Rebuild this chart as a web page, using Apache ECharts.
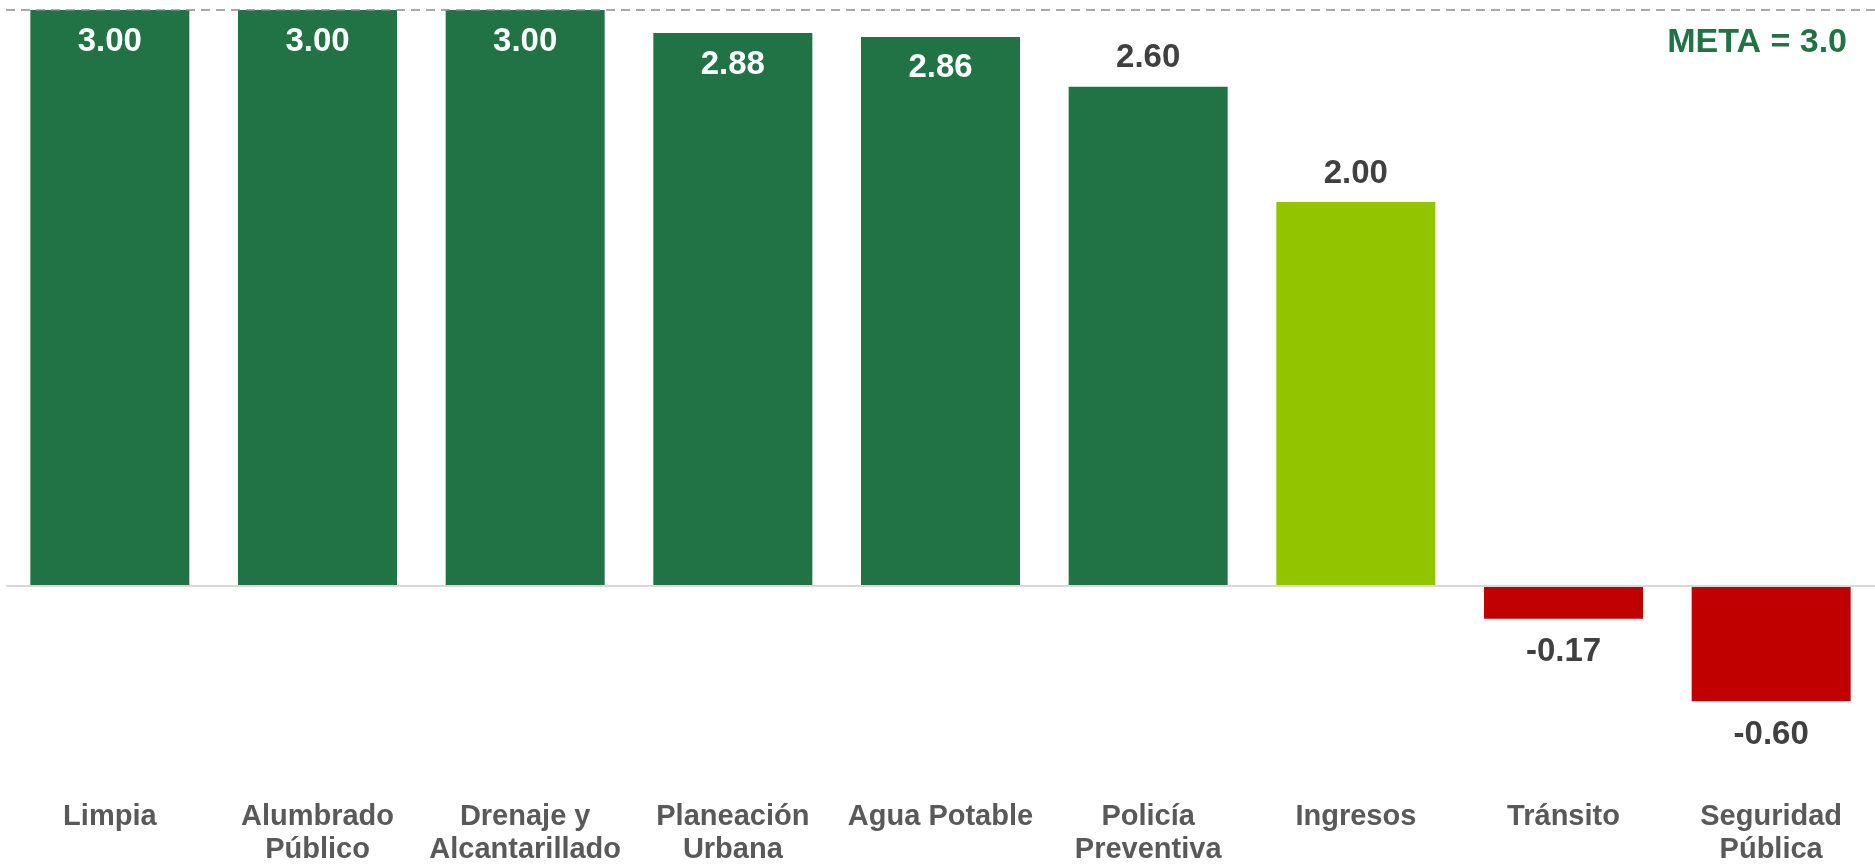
<!DOCTYPE html>
<html>
<head>
<meta charset="utf-8">
<style>
html,body{margin:0;padding:0;background:#fff;}
#chart{width:1875px;height:866px;}
</style>
<script src="https://cdn.jsdelivr.net/npm/echarts@6/dist/echarts.min.js"></script>
</head>
<body>
<div id="chart"></div>
<script>
const categories = ['Limpia', 'Alumbrado\nPúblico', 'Drenaje y\nAlcantarillado', 'Planeación\nUrbana', 'Agua Potable', 'Policía\nPreventiva', 'Ingresos', 'Tránsito', 'Seguridad\nPública'];
const values = [3.00, 3.00, 3.00, 2.88, 2.86, 2.60, 2.00, -0.17, -0.60];
const metaValue = 3.0;
const metaLabel = 'META = 3.0';

const FONT = '"Liberation Sans", Arial, sans-serif';
function barColor(v) {
  if (v < 0) return '#C00000';
  if (v < 2.5) return '#92C400';
  return '#217346';
}
const data = values.map(v => {
  const inside = v >= 2.85;
  return {
    value: v,
    itemStyle: { color: barColor(v) },
    label: {
      show: true,
      position: v < 0 ? 'bottom' : (inside ? 'insideTop' : 'top'),
      distance: v < 0 ? 17 : (inside ? 15 : 12),
      color: inside ? '#ffffff' : '#404040',
      formatter: p => p.value.toFixed(2)
    }
  };
});

const chart = echarts.init(document.getElementById('chart'), null, { renderer: 'canvas' });
chart.setOption({
  animation: false,
  grid: { left: 6, right: 0, top: 10, bottom: 86 },
  xAxis: {
    type: 'category',
    data: categories,
    axisLine: { show: false, onZero: false },
    axisTick: { show: false },
    axisLabel: {
      interval: 0,
      margin: 22,
      color: '#595959',
      fontFamily: FONT,
      fontWeight: 'bold',
      fontSize: 29,
      lineHeight: 33
    }
  },
  yAxis: {
    type: 'value',
    min: -1,
    max: 3,
    interval: 1,
    show: false,
    splitLine: { show: false }
  },
  series: [{
    type: 'bar',
    data: data,
    barWidth: 159,
    label: {
      fontFamily: FONT,
      fontWeight: 'bold',
      fontSize: 33
    },
    markLine: {
      silent: true,
      symbol: 'none',
      z: 10,
      data: [
        {
          yAxis: 0,
          lineStyle: { color: '#D9D9D9', type: 'solid', width: 2 },
          label: { show: false }
        },
        {
          yAxis: metaValue,
          lineStyle: { color: '#8C8C8C', type: [9, 6], width: 1.5 },
          label: {
            show: true,
            position: 'insideEndBottom',
            formatter: metaLabel,
            color: '#217346',
            fontFamily: FONT,
            fontWeight: 'bold',
            fontSize: 34,
            distance: [28, 16]
          }
        }
      ]
    }
  }]
});
</script>
</body>
</html>
